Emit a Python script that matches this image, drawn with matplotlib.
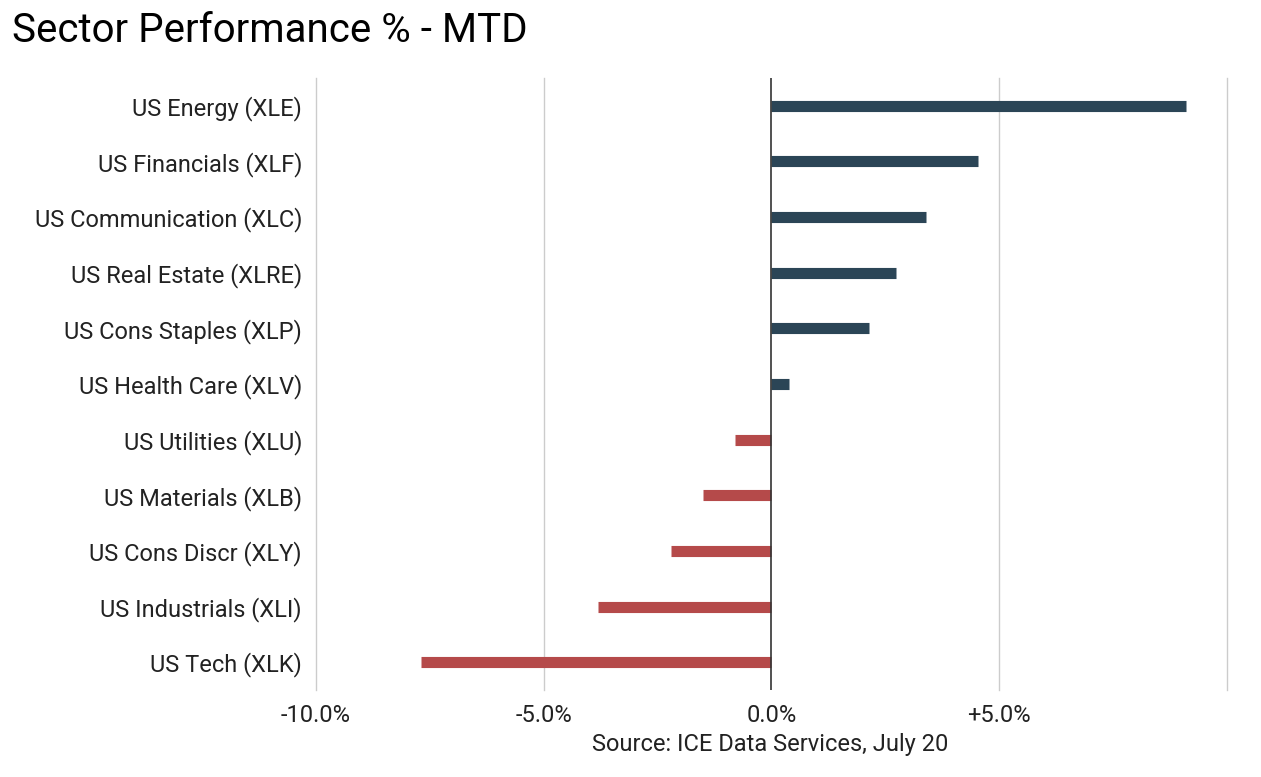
import matplotlib.pyplot as plt

plt.rcParams['font.family'] = ['Roboto', 'DejaVu Sans']

# Sector MTD performance, top to bottom as shown
sectors = ['US Energy (XLE)', 'US Financials (XLF)', 'US Communication (XLC)',
           'US Real Estate (XLRE)', 'US Cons Staples (XLP)', 'US Health Care (XLV)',
           'US Utilities (XLU)', 'US Materials (XLB)', 'US Cons Discr (XLY)',
           'US Industrials (XLI)', 'US Tech (XLK)']
values = [9.1, 4.55, 3.4, 2.75, 2.15, 0.38, -0.8, -1.5, -2.2, -3.8, -7.7]

tick_vals = [-10, -5, 0, 5]
tick_labels = ['-10.0%', '-5.0%', '0.0%', '+5.0%']

fig = plt.figure(figsize=(12.61, 7.77), dpi=100)
ax = fig.add_axes([316/1261, 1 - 690/777, (1227-316)/1261, (690-78)/777])

n = len(sectors)
for i, (s, v) in enumerate(zip(sectors, values)):
    y = n - 1 - i
    color = '#2b4556' if v >= 0 else '#b54a4a'
    ax.plot([0, v], [y, y], color=color, lw=8, solid_capstyle='butt', zorder=3)

for g in [-10, -5, 5, 10]:
    ax.axvline(g, color='#cccccc', lw=1, zorder=1, clip_on=False)
ax.axvline(0, color='#333333', lw=1.2, zorder=4)

ax.set_xlim(-10, 10.01)
ax.set_ylim(-0.5, n - 0.5)
ax.set_yticks(range(n))
ax.set_yticklabels(sectors[::-1], fontsize=17, color='#222222')
ax.set_xticks(tick_vals)
ax.set_xticklabels(tick_labels, fontsize=17, color='#222222')
ax.tick_params(length=0, pad=10)
for sp in ax.spines.values():
    sp.set_visible(False)

fig.text(12/1261, 1 - 30/777, 'Sector Performance % - MTD', fontsize=29, va='center', ha='left')
fig.text(770/1261, 1 - 745/777, 'Source: ICE Data Services, July 20', fontsize=17,
         va='center', ha='center', color='#222222')

plt.savefig('out.png', dpi=100)
